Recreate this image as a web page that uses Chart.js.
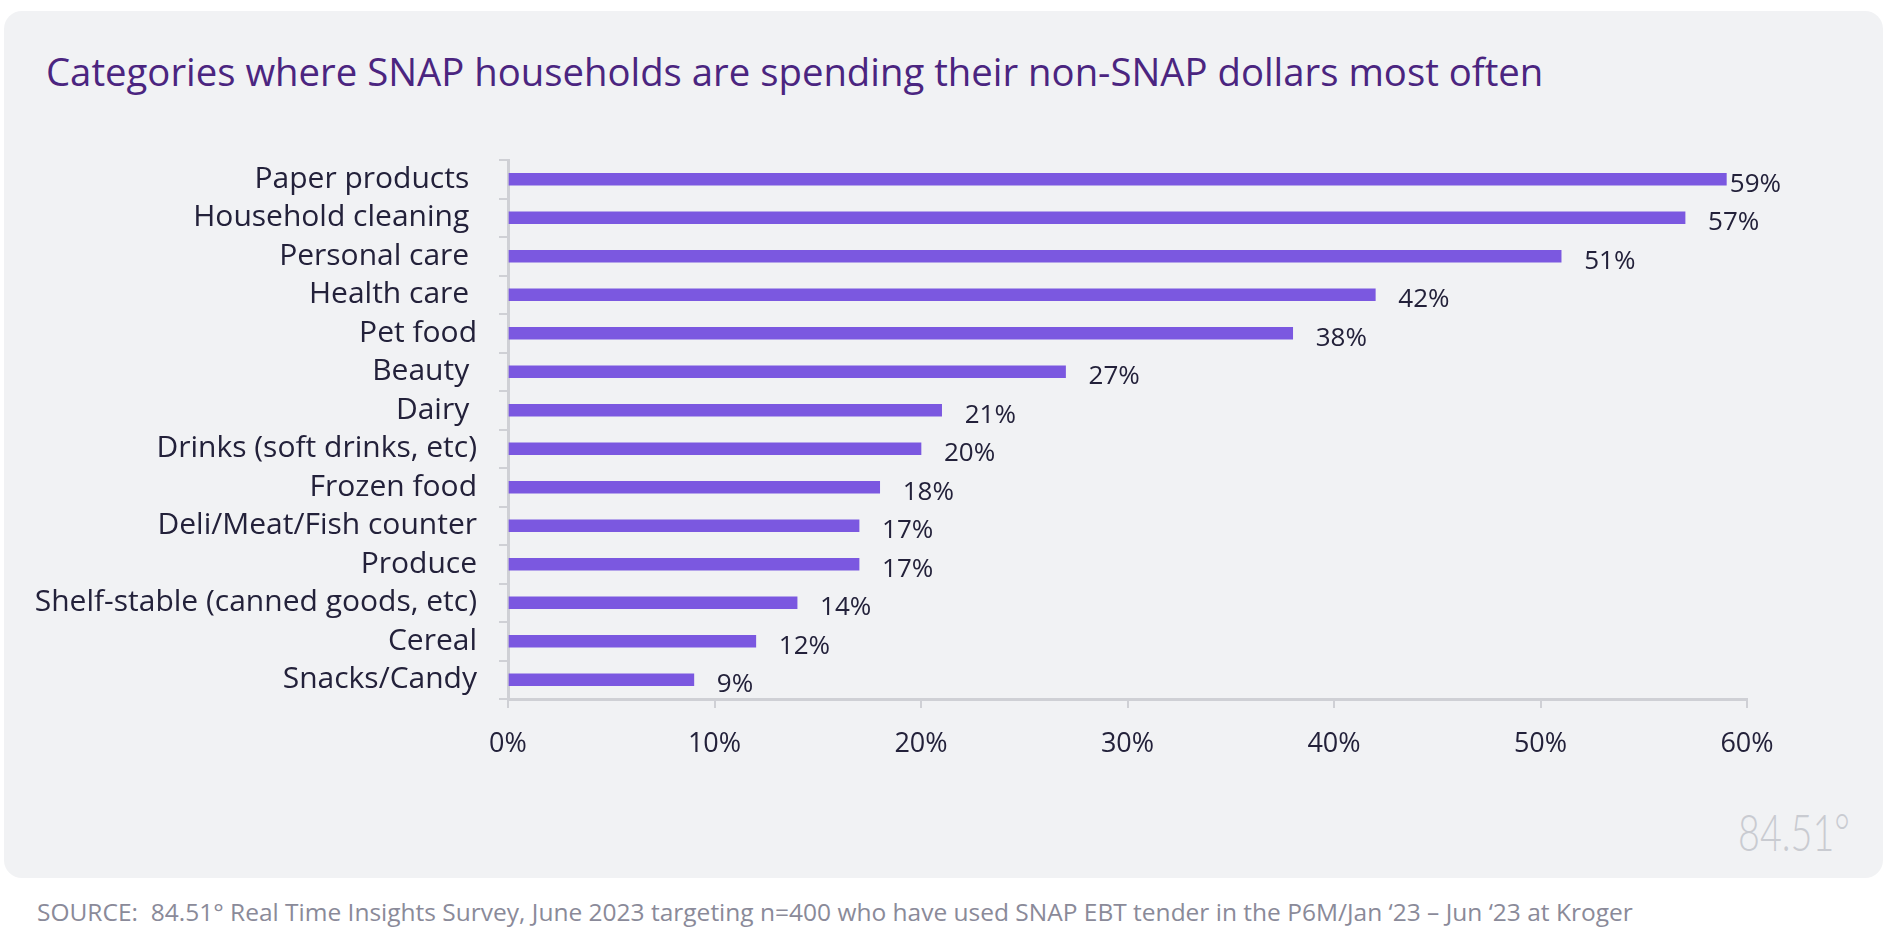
<!DOCTYPE html>
<html>
<head>
<meta charset="utf-8">
<script src="https://cdn.jsdelivr.net/npm/chart.js@4.4.0/dist/chart.umd.min.js"></script>
<style>
  html, body { margin: 0; padding: 0; background: #ffffff; }
  body { width: 1898px; height: 940px; position: relative; overflow: hidden; font-family: "Open Sans", Lato, sans-serif; }
  #card { position: absolute; left: 4px; top: 11px; width: 1879px; height: 867px; background: #f1f2f4; border-radius: 18px; }
  #title { position: absolute; left: 46px; top: 45px; font-size: 38.3px; color: #4b2580; white-space: nowrap; }
  #chart-wrap { position: absolute; left: 0; top: 120px; width: 1898px; height: 660px; }
  #logo { position: absolute; left: 1738px; top: 801px; font-family: Lato, sans-serif; font-size: 51px; font-weight: 300; color: #c9cbd1; white-space: nowrap; transform: scaleX(0.74); transform-origin: left top; }
  #source { position: absolute; left: 37px; top: 895px; font-size: 24.5px; color: #8a8a99; white-space: nowrap; }
</style>
</head>
<body>
<div id="card"></div>
<div id="title">Categories where SNAP households are spending their non-SNAP dollars most often</div>
<div id="chart-wrap"><canvas id="main-chart"></canvas></div>
<div id="logo">84.51°</div>
<div id="source">SOURCE:&nbsp; 84.51° Real Time Insights Survey, June 2023 targeting n=400 who have used SNAP EBT tender in the P6M/Jan ‘23 – Jun ‘23 at Kroger</div>

<script>
// Data
const categories = [
    'Paper products ', 'Household cleaning ', 'Personal care ', 'Health care ',
    'Pet food', 'Beauty ', 'Dairy ', 'Drinks (soft drinks, etc)', 'Frozen food',
    'Deli/Meat/Fish counter', 'Produce', 'Shelf-stable (canned goods, etc)',
    'Cereal', 'Snacks/Candy'
];
const shares = [59, 57, 51, 42, 38, 27, 21, 20, 18, 17, 17, 14, 12, 9];
const xTicks = [0, 10, 20, 30, 40, 50, 60];

const barColor = '#7b58e0';
const textColor = '#23213a';
const axisColor = '#cfd0d5';
const fontFamily = '"Open Sans", Lato, sans-serif';

// Value labels drawn next to each bar end
const valueLabels = {
    id: 'valueLabels',
    afterDatasetsDraw(chart) {
        const ctx = chart.ctx;
        const meta = chart.getDatasetMeta(0);
        const area = chart.chartArea;
        ctx.save();
        ctx.font = '26px ' + fontFamily;
        ctx.fillStyle = textColor;
        ctx.textAlign = 'left';
        ctx.textBaseline = 'middle';
        meta.data.forEach((bar, i) => {
            const text = shares[i] + '%';
            const w = ctx.measureText(text).width;
            let x = bar.x + 23;
            if (x + w > area.right + 34) x = area.right + 34 - w;
            ctx.fillText(text, x, bar.y + 5);
        });
        ctx.restore();
    }
};

const chartCanvas = document.getElementById('main-chart');

new Chart(chartCanvas, {
    type: 'bar',
    data: {
        labels: categories,
        datasets: [{
            data: shares,
            backgroundColor: barColor,
            barThickness: 12,
            borderWidth: 0
        }]
    },
    options: {
        indexAxis: 'y',
        responsive: true,
        maintainAspectRatio: false,
        animation: false,
        layout: { padding: { top: 33, right: 151, left: 0, bottom: 0 } },
        plugins: {
            legend: { display: false },
            tooltip: { enabled: false }
        },
        scales: {
            x: {
                min: 0,
                max: 60,
                afterBuildTicks: scale => {
                    scale.ticks = xTicks.map(v => ({ value: v }));
                },
                afterFit: scale => { scale.height = 81; },
                border: { display: true, color: axisColor, width: 3 },
                grid: {
                    display: true,
                    drawOnChartArea: false,
                    drawTicks: true,
                    tickLength: 9,
                    color: axisColor,
                    lineWidth: 2
                },
                ticks: {
                    color: textColor,
                    padding: 20,
                    autoSkip: false,
                    font: { size: 27, family: fontFamily },
                    callback: v => v + '%'
                }
            },
            y: {
                afterFit: scale => { scale.width = 508; },
                border: { display: true, color: axisColor, width: 3 },
                grid: {
                    display: true,
                    drawOnChartArea: false,
                    drawTicks: true,
                    tickLength: 9,
                    color: axisColor,
                    lineWidth: 2,
                    offset: true
                },
                ticks: {
                    color: textColor,
                    padding: 22,
                    autoSkip: false,
                    font: { size: 30, family: fontFamily }
                }
            }
        }
    },
    plugins: [valueLabels]
});
</script>
</body>
</html>
